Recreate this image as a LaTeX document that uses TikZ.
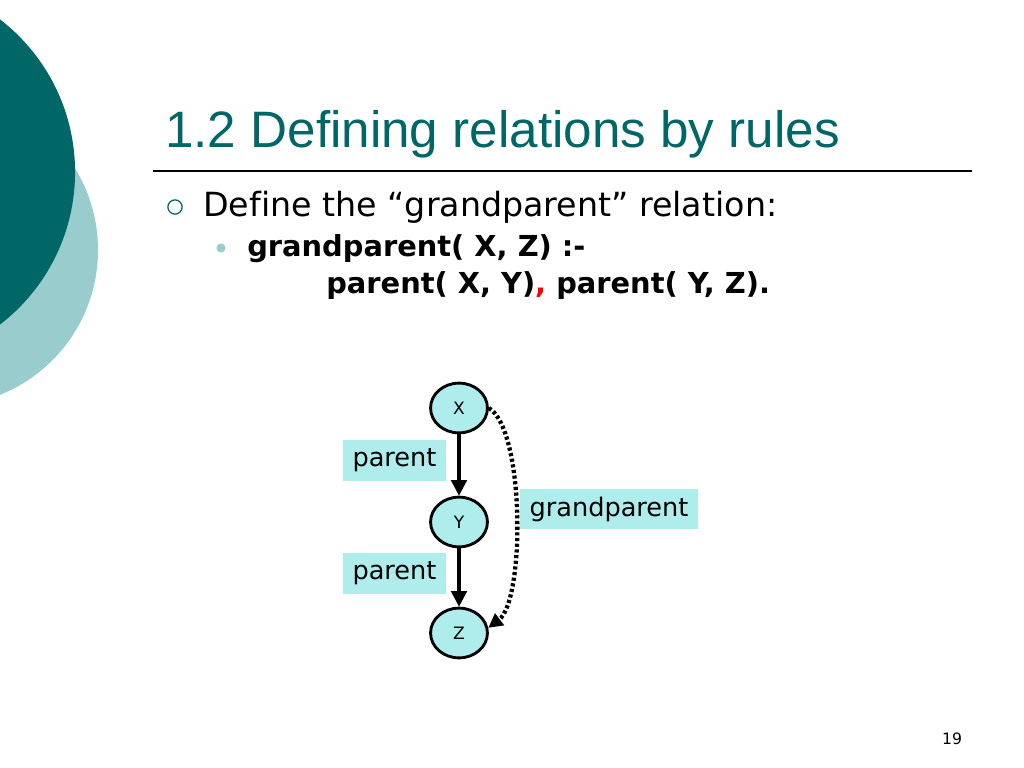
\documentclass[tikz,border=0pt]{standalone}
\usepackage{fontspec}
\setmainfont[Ligatures=NoCommon]{DejaVu Sans}
\newfontfamily\titlefont{Liberation Sans}
\usetikzlibrary{arrows.meta,shapes.geometric}
\definecolor{darkteal}{RGB}{0,102,102}
\definecolor{lightteal}{RGB}{153,204,204}
\definecolor{paleaqua}{RGB}{175,236,236}
\begin{document}
\begin{tikzpicture}[x=0.703125pt,y=-0.703125pt,
  vertex/.style={ellipse,draw,line width=2pt,fill=paleaqua,inner sep=0pt,
    minimum width=40pt,minimum height=35pt,font=\fontsize{12}{14}\selectfont},
  relbox/.style={fill=paleaqua,inner sep=0pt,minimum height=28.5pt,
    font=\fontsize{18}{21}\selectfont},
  edge/.style={line width=2.2pt,-{Triangle[length=11pt,width=11pt]}}]
\useasboundingbox (0,0) rectangle (1024,768);
\clip (0,0) rectangle (1024,768);

% background circles
\fill [lightteal] (-58,250) circle (109.7pt);
\fill [darkteal] (-117.5,172) circle (135.4pt);

% title
\node [anchor=base west,inner sep=0pt,text=darkteal] (title) at (165,148)
  {\titlefont\fontsize{36}{43}\selectfont 1.2 Defining relations by rules};
\draw [line width=0.8pt] (153,171) -- (972,171);

% bullets
\draw [darkteal,line width=0.9pt] (175,207) circle (5pt);
\node [anchor=base west,inner sep=0pt] (intro) at (203,217)
  {\fontsize{23.4}{27}\selectfont Define the “grandparent” relation:};
\fill [lightteal] (221,248) circle (3.2pt);
\node [anchor=base west,inner sep=0pt] (head) at (247,257)
  {\fontsize{20.3}{24}\selectfont\bfseries grandparent( X, Z) :-};
\node [anchor=base west,inner sep=0pt] (body) at (326,293)
  {\fontsize{20.3}{24}\selectfont\bfseries parent( X, Y)\textcolor{red}{,} parent( Y, Z).};

% graph
\node [vertex] (X) at (459,408) {X};
\node [vertex] (Y) at (459,522) {Y};
\node [vertex] (Z) at (459,633) {Z};
\draw [edge] (X) -- (Y);
\draw [edge] (Y) -- (Z);
\draw [line width=3pt,dash pattern=on 2.2pt off 1.8pt,
  -{Triangle[length=10pt,width=10pt]}]
  (X.east) .. controls (525,430) and (525,600) .. (Z.10);

\node [relbox,minimum width=72.4pt] (par1) at (394.5,460.5) {parent};
\node [relbox,minimum width=72.4pt] (par2) at (394.5,573.5) {parent};
\node [relbox,minimum width=125pt] (gp) at (609,509) {grandparent};

% page number
\node [anchor=base,inner sep=0pt] (num) at (952,744)
  {\fontsize{11}{13}\selectfont 19};
\end{tikzpicture}
\end{document}
